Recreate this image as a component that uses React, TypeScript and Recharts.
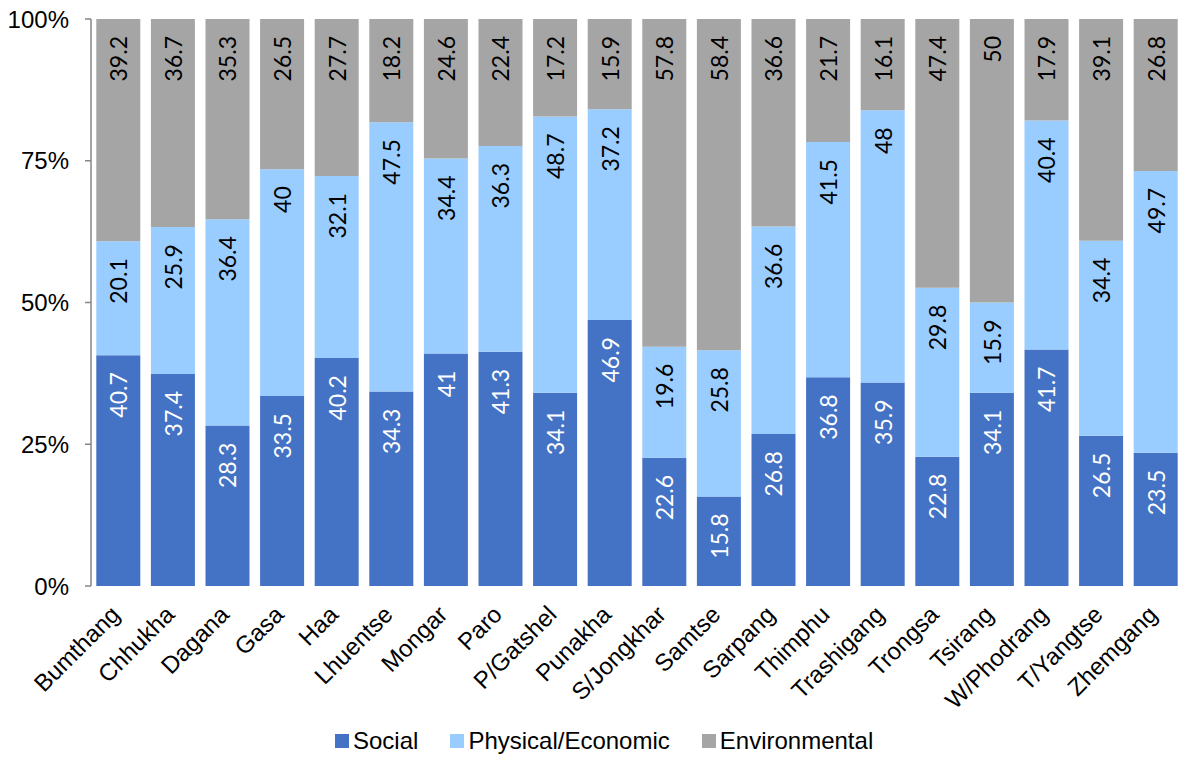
import React from "react";
import { BarChart, Bar, XAxis, YAxis, Legend, LabelList } from "recharts";

const districts = [
  "Bumthang", "Chhukha", "Dagana", "Gasa", "Haa", "Lhuentse", "Mongar", "Paro",
  "P/Gatshel", "Punakha", "S/Jongkhar", "Samtse", "Sarpang", "Thimphu",
  "Trashigang", "Trongsa", "Tsirang", "W/Phodrang", "T/Yangtse", "Zhemgang",
];
const social = [40.7, 37.4, 28.3, 33.5, 40.2, 34.3, 41, 41.3, 34.1, 46.9, 22.6, 15.8, 26.8, 36.8, 35.9, 22.8, 34.1, 41.7, 26.5, 23.5];
const physical = [20.1, 25.9, 36.4, 40, 32.1, 47.5, 34.4, 36.3, 48.7, 37.2, 19.6, 25.8, 36.6, 41.5, 48, 29.8, 15.9, 40.4, 34.4, 49.7];
const environmental = [39.2, 36.7, 35.3, 26.5, 27.7, 18.2, 24.6, 22.4, 17.2, 15.9, 57.8, 58.4, 36.6, 21.7, 16.1, 47.4, 50, 17.9, 39.1, 26.8];
const yTicks = [0, 25, 50, 75, 100];
const seriesNames = ["Social", "Physical/Economic", "Environmental"];
const seriesColors = ["#4472C4", "#99CCFF", "#A5A5A5"];

const data = districts.map((d, i) => ({
  name: d,
  social: social[i],
  physical: physical[i],
  environmental: environmental[i],
}));

const AXIS_FONT = "'Liberation Sans', Arial, sans-serif";
const LABEL_FONT = "Lato, 'Open Sans', sans-serif";

const makeLabel = (color: string) => (props: any) => {
  const { x, y, width, value } = props;
  const cx = Number(x) + Number(width) / 2;
  const ty = Number(y) + 17;
  return (
    <text
      x={cx}
      y={ty}
      transform={`rotate(-90, ${cx}, ${ty})`}
      textAnchor="end"
      dominantBaseline="central"
      fill={color}
      fontFamily={LABEL_FONT}
      fontSize={23}
    >
      {value}
    </text>
  );
};

const CategoryTick = (props: any) => {
  const { x, y, payload } = props;
  const ax = Number(x) + 3;
  const ay = Number(y) + 22;
  return (
    <text
      x={ax}
      y={ay}
      transform={`rotate(-45, ${ax}, ${ay})`}
      textAnchor="end"
      fill="#000"
      fontFamily={AXIS_FONT}
      fontSize={24}
    >
      {payload.value}
    </text>
  );
};

const LegendContent = () => {
  return (
    <div style={{ display: "flex", alignItems: "center", fontFamily: AXIS_FONT, fontSize: 24, color: "#000", lineHeight: "28px" }}>
      {seriesNames.map((n, i) => (
        <div key={n} style={{ display: "flex", alignItems: "center", marginRight: 32 }}>
          <span style={{ display: "inline-block", width: 14, height: 14, background: seriesColors[i], marginRight: 4 }} />
          <span>{n}</span>
        </div>
      ))}
    </div>
  );
};

export default function App() {
  return (
    <div style={{ position: "absolute", left: 0, top: 0, width: 1184, height: 757, background: "#fff" }}>
      <BarChart
        width={1184}
        height={757}
        data={data}
        margin={{ top: 19, right: 1, bottom: 0, left: 0 }}
        barCategoryGap="9.7%"
      >
        <XAxis
          dataKey="name"
          axisLine={false}
          tickLine={false}
          interval={0}
          height={171}
          tick={<CategoryTick />}
        />
        <YAxis
          type="number"
          domain={[0, 100]}
          ticks={yTicks}
          width={91}
          tickFormatter={(v: number) => `${v}%`}
          axisLine={{ stroke: "#868686", strokeWidth: 1.5 }}
          tickLine={{ stroke: "#868686", strokeWidth: 1.5 }}
          tickSize={6}
          tickMargin={16}
          tick={{ fill: "#000", fontFamily: AXIS_FONT, fontSize: 24 }}
          allowDataOverflow
        />
        <Legend
          layout="horizontal"
          verticalAlign="middle"
          align="center"
          wrapperStyle={{ position: "absolute", left: 335, top: 727, width: "auto" }}
          content={<LegendContent />}
        />
        <Bar dataKey="social" name="Social" stackId="a" fill={seriesColors[0]} isAnimationActive={false}>
          <LabelList dataKey="social" content={makeLabel("#ffffff")} />
        </Bar>
        <Bar dataKey="physical" name="Physical/Economic" stackId="a" fill={seriesColors[1]} isAnimationActive={false}>
          <LabelList dataKey="physical" content={makeLabel("#000000")} />
        </Bar>
        <Bar dataKey="environmental" name="Environmental" stackId="a" fill={seriesColors[2]} isAnimationActive={false}>
          <LabelList dataKey="environmental" content={makeLabel("#000000")} />
        </Bar>
      </BarChart>
    </div>
  );
}
